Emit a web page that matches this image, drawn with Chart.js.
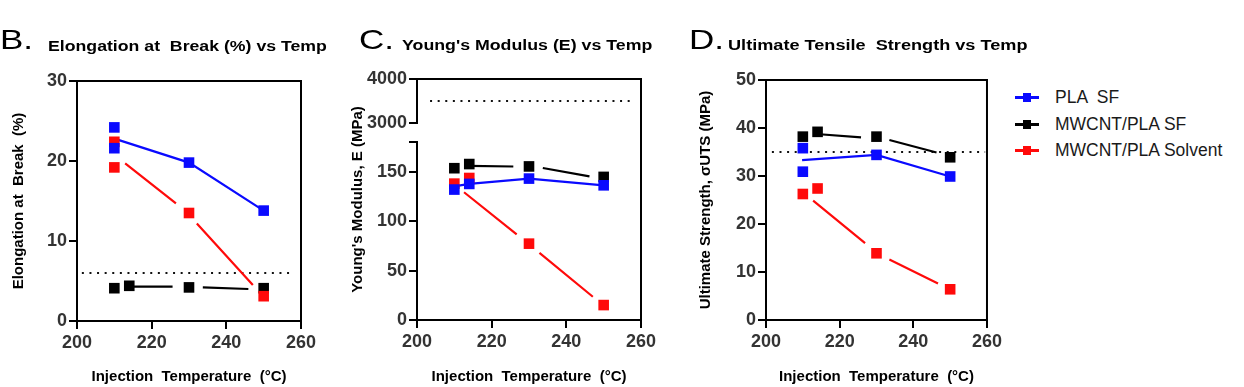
<!DOCTYPE html>
<html>
<head>
<meta charset="utf-8">
<script src="https://cdn.jsdelivr.net/npm/chart.js@4.4.1/dist/chart.umd.min.js"></script>
<style>
  html, body { margin: 0; padding: 0; background: #fff; }
  #wrap { position: relative; width: 1244px; height: 387px; overflow: hidden; font-family: "Liberation Sans", Arial, sans-serif; }
  canvas { position: absolute; top: 0; }
  .big { position: absolute; top: 26px; font-size: 28px; line-height: 1; color: #000; transform: scaleX(1.25); transform-origin: 0 0; }
  .ttl { position: absolute; top: 39px; font-size: 14.5px; font-weight: bold; line-height: 1; white-space: pre; color: #000; transform-origin: 0 0; }
  .li { position: absolute; left: 1015px; height: 20px; line-height: 20px; font-size: 17.5px; color: #1a1a1a; white-space: pre; }
  .sw { position: absolute; left: 0; top: 9px; width: 24px; height: 3px; }
  .sw i { position: absolute; left: 8px; top: -3px; width: 8px; height: 9px; }
  .li span.t { position: absolute; left: 40px; top: 0; }
</style>
</head>
<body>
<div id="wrap">
  <canvas id="chartB" width="340" height="387" style="left:0px;width:340px;height:387px"></canvas>
  <canvas id="chartC" width="340" height="387" style="left:340px;width:340px;height:387px"></canvas>
  <canvas id="chartD" width="325" height="387" style="left:680px;width:325px;height:387px"></canvas>

  <div class="big" style="left:0px">B.</div>
  <div class="ttl" style="left:48px;transform:scaleX(1.22)">Elongation at  Break (%) vs Temp</div>
  <div class="big" style="left:359px">C.</div>
  <div class="ttl" style="left:402px;top:38px;transform:scaleX(1.225)">Young's Modulus (E) vs Temp</div>
  <div class="big" style="left:689px">D.</div>
  <div class="ttl" style="left:728px;top:38px;transform:scaleX(1.25)">Ultimate Tensile  Strength vs Temp</div>
  <div id="legend"></div>
</div>

<script>
// three panels of injection-moulding results, GraphPad style
const FONT = '"Liberation Sans", Arial, sans-serif';

const seriesNames = ['PLA  SF', 'MWCNT/PLA SF', 'MWCNT/PLA Solvent'];
const seriesColors = ['#0a0aff', '#000000', '#ff0a0a'];

const xTicks = [200, 220, 240, 260];
const elongTicks = [0, 10, 20, 30];
const modLowTicks = [0, 50, 100, 150, 180];
const modHighTicks = [3000, 4000];
const utsTicks = [0, 10, 20, 30, 40, 50];

// B. elongation at break (%), points [temp, value]
const elongPLA = [[210, 24.2], [210, 21.6], [230, 19.8], [250, 13.8]];
const elongCNT = [[210, 4.1], [214, 4.4], [230, 4.2], [250, 4.1]];
const elongSolv = [[210, 22.4], [210, 19.2], [230, 13.5], [250, 3.1]];
// connecting lines (null = gap)
const elongPLALine = [[210, 22.8], [230, 19.8], [250, 13.8]];
const elongCNTLine = [[214.6, 4.3], [225.6, 4.3], null, [233.7, 4.2], [245.9, 4.0]];
const elongSolvLine = [[212.9, 19.7], [226.5, 14.7], null, [232.1, 12.2], [247.1, 4.5]];
const elongRef = [[201.3, 6], [258, 6]];

// C. Young's modulus (MPa)
const modPLA = [[210, 131.9], [214, 137.6], [230, 143], [250, 136.2]];
const modCNT = [[210, 153.5], [214, 157.7], [230, 155.3], [250, 144.7]];
const modSolv = [[210, 137.9], [214, 143.6], [230, 77.2], [250, 15.1]];
const modPLALine = [[210, 135.2], [214, 137.6], [230, 143], [250, 136.2]];
const modCNTLine = [[213.8, 155.9], [225.8, 155.2], null, [233.7, 153.7], [246.2, 145.3]];
const modSolvLine = [[212.6, 129.2], [226.7, 86.6], null, [232.8, 67.8], [247.1, 23.5]];
const modRef = [[203.5, 3500], [258.4, 3500]];

// D. ultimate tensile strength (MPa)
const utsPLA = [[210, 35.8], [210, 30.9], [230, 34.4], [250, 29.9]];
const utsCNT = [[210, 38.2], [214, 39.2], [230, 38.2], [250, 33.9]];
const utsSolv = [[210, 26.25], [214, 27.4], [230, 13.9], [250, 6.4]];
const utsPLALine = [[209.8, 33.3], [230, 34.4], [250, 29.9]];
const utsCNTLine = [[213.7, 38.75], [225.8, 38.05], null, [233.5, 37.5], [246.3, 34.9]];
const utsSolvLine = [[212.8, 24.85], [226.9, 16.0], null, [233.5, 12.6], [246.7, 7.6]];
const utsRef = [[201.6, 35], [259.5, 35]];

function toXY(arr) {
  const out = [];
  arr.forEach((p, i) => {
    if (p === null) out.push({ x: arr[i - 1][0], y: null });
    else out.push({ x: p[0], y: p[1] });
  });
  return out;
}

function pointsDs(data, color, order, yAxisID) {
  return {
    data: toXY(data), yAxisID, order,
    backgroundColor: color, borderWidth: 0,
    pointStyle: 'rect', pointRadius: 7.5, pointHoverRadius: 7.5,
    showLine: false
  };
}
function lineDs(data, color, order, yAxisID) {
  return {
    data: toXY(data), yAxisID, order,
    borderColor: color, borderWidth: 2.2,
    pointRadius: 0, pointHoverRadius: 0,
    showLine: true, spanGaps: false
  };
}
function refDs(data, yAxisID) {
  return {
    data: toXY(data), yAxisID, order: 10,
    borderColor: '#111', borderWidth: 2, borderDash: [2, 5.6],
    pointRadius: 0, showLine: true
  };
}
function seriesSets(pts, lines, ref, yId, refId) {
  // blue on top, then red, then black
  return [
    pointsDs(pts[0], seriesColors[0], 1, yId),
    pointsDs(pts[2], seriesColors[2], 2, yId),
    pointsDs(pts[1], seriesColors[1], 3, yId),
    lineDs(lines[0], seriesColors[0], 4, yId),
    lineDs(lines[2], seriesColors[2], 5, yId),
    lineDs(lines[1], seriesColors[1], 6, yId),
    refDs(ref, refId || yId)
  ];
}

const gridOpts = { display: true, drawOnChartArea: false, drawTicks: true, tickLength: 8, color: '#000', lineWidth: 2 };
const borderOpts = { display: true, color: '#000', width: 2 };
const tickFont = { family: FONT, size: 18, weight: 'bold' };
const titleFont = { family: FONT, size: 15, weight: 'bold' };

function xAxis(h) {
  return {
    type: 'linear', position: 'bottom', min: 200, max: 260,
    grid: gridOpts, border: borderOpts,
    ticks: { color: '#333', font: tickFont, padding: 3, callback: v => String(v) },
    afterBuildTicks: s => { s.ticks = xTicks.map(v => ({ value: v })); },
    title: { display: true, text: 'Injection  Temperature  (°C)', color: '#000', font: titleFont, padding: { top: 0, bottom: 1 } },
    afterFit: s => { s.height = h; }
  };
}
function yAxis(min, max, ticks, w, extra) {
  return Object.assign({
    type: 'linear', position: 'left', min, max,
    grid: gridOpts, border: borderOpts,
    ticks: { color: '#333', font: tickFont, padding: 2, callback: v => String(v) },
    afterBuildTicks: s => { s.ticks = ticks.map(v => ({ value: v })); },
    afterFit: s => { s.width = w; }
  }, extra || {});
}

const framePlugin = {
  id: 'frame',
  beforeDatasetsDraw(chart) {
    const { ctx, chartArea: a } = chart;
    ctx.save();
    ctx.strokeStyle = '#000';
    ctx.lineWidth = 2;
    ctx.lineCap = 'square';
    ctx.beginPath();
    ctx.moveTo(a.left, a.top);
    ctx.lineTo(a.right, a.top);
    ctx.lineTo(a.right, a.bottom);
    ctx.stroke();
    ctx.restore();
  }
};

const baseOpts = {
  responsive: false,
  devicePixelRatio: 1,
  animation: false,
  plugins: { legend: { display: false }, tooltip: { enabled: false } },
  events: []
};

// B
new Chart(document.getElementById('chartB'), {
  type: 'scatter',
  data: { datasets: seriesSets([elongPLA, elongCNT, elongSolv], [elongPLALine, elongCNTLine, elongSolvLine], elongRef, 'y') },
  options: Object.assign({}, baseOpts, {
    layout: { padding: { left: 0, top: 81, right: 39, bottom: 0 } },
    scales: {
      x: xAxis(66),
      y: yAxis(0, 30, elongTicks, 77, {
        title: { display: true, text: 'Elongation at  Break  (%)', color: '#000', font: titleFont, padding: { top: 10, bottom: 0 } }
      })
    }
  }),
  plugins: [framePlugin]
});

// C (broken y axis: stacked scales)
new Chart(document.getElementById('chartC'), {
  type: 'scatter',
  data: { datasets: seriesSets([modPLA, modCNT, modSolv], [modPLALine, modCNTLine, modSolvLine], modRef, 'yLow', 'yHigh') },
  options: Object.assign({}, baseOpts, {
    layout: { padding: { left: 0, top: 79, right: 39, bottom: 0 } },
    scales: {
      x: xAxis(67),
      yT: {
        type: 'linear', position: 'left', min: 0, max: 1, weight: 1,
        grid: { display: false }, border: { display: false }, ticks: { display: false },
        title: { display: true, text: "Young's Modulus, E (MPa)", color: '#000', font: titleFont, padding: { top: 9, bottom: 0 } },
        afterFit: s => { s.width = 25; }
      },
      yLow: yAxis(0, 180, modLowTicks, 52, {
        stack: 'c', stackWeight: 178,
        ticks: { color: '#333', font: tickFont, padding: 2, callback: v => (v === 180 ? '' : String(v)) }
      }),
      yGap: {
        type: 'linear', position: 'left', min: 0, max: 1, stack: 'c', stackWeight: 19,
        grid: { display: false }, border: { display: false }, ticks: { display: false },
        afterFit: s => { s.width = 52; }
      },
      yHigh: yAxis(3000, 4000, modHighTicks, 52, { stack: 'c', stackWeight: 44 })
    }
  }),
  plugins: [framePlugin]
});

// D
new Chart(document.getElementById('chartD'), {
  type: 'scatter',
  data: { datasets: seriesSets([utsPLA, utsCNT, utsSolv], [utsPLALine, utsCNTLine, utsSolvLine], utsRef, 'y') },
  options: Object.assign({}, baseOpts, {
    layout: { padding: { left: 0, top: 80, right: 16, bottom: 0 } },
    scales: {
      x: xAxis(67),
      y: yAxis(0, 50, utsTicks, 86, {
        title: { display: true, text: 'Ultimate Strength, σUTS (MPa)', color: '#000', font: titleFont, padding: { top: 17, bottom: 0 } }
      })
    }
  }),
  plugins: [framePlugin]
});

// legend
const legendTop = 97, legendGap = 26.5;
const legend = document.getElementById('legend');
seriesNames.forEach((name, i) => {
  const row = document.createElement('div');
  row.className = 'li';
  row.style.top = (legendTop + i * legendGap - 10) + 'px';
  row.innerHTML = `<span class="sw" style="background:${seriesColors[i]}"><i style="background:${seriesColors[i]}"></i></span><span class="t">${name}</span>`;
  legend.appendChild(row);
});
</script>
</body>
</html>
